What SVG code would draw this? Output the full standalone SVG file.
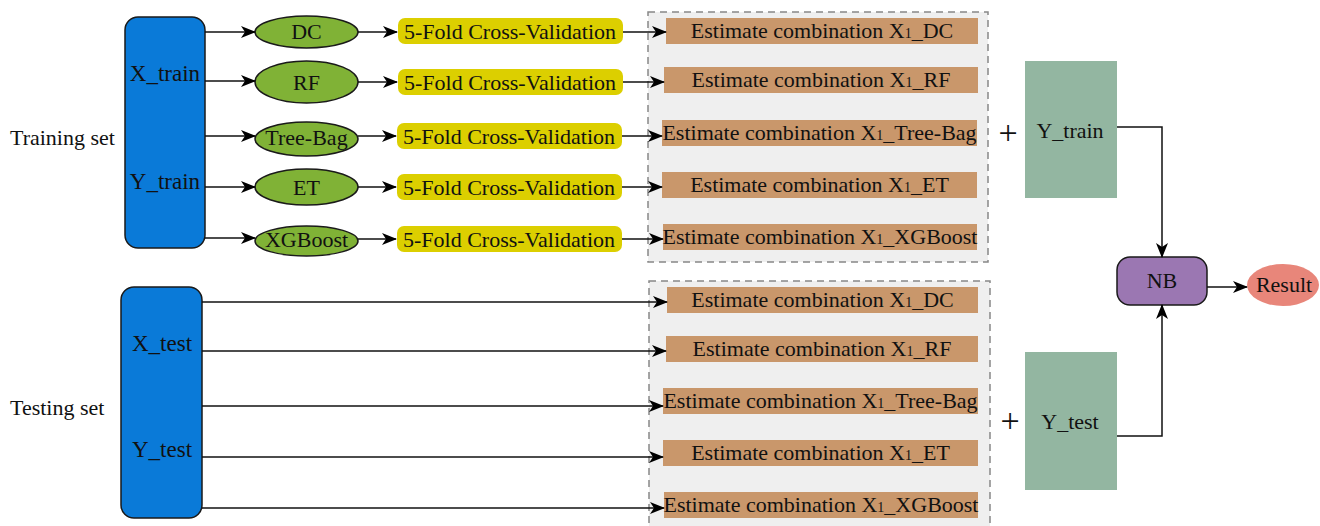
<svg xmlns="http://www.w3.org/2000/svg" width="1320" height="526" viewBox="0 0 1320 526">
<defs>
<marker id="ah" markerWidth="15" markerHeight="12" refX="14" refY="6" orient="auto" markerUnits="userSpaceOnUse">
<path d="M0,0 L15,6 L0,12 L4,6 z" fill="#000"/>
</marker>
<style>
text{font-family:"Liberation Serif","Times New Roman",serif;fill:#111;}
.t21{font-size:22px;}
.t22{font-size:23px;}
.blue{fill:#0a7ad8;stroke:#1a1a1a;stroke-width:1.5;}
.ell{fill:#80b236;stroke:#1a1a1a;stroke-width:1.5;}
.yel{fill:#dccf00;}
.brn{fill:#c9976b;}
.grp{fill:#efefef;stroke:#888;stroke-width:1.5;stroke-dasharray:7,5;}
.grn{fill:#93b6a1;}
.ln{stroke:#111;stroke-width:1.5;fill:none;}
.ar{stroke:#111;stroke-width:1.5;fill:none;marker-end:url(#ah);}
.sub{font-size:14px;}
</style>
</defs>
<rect width="1320" height="526" fill="#fff"/>

<text class="t21" x="10" y="145">Training set</text>
<text class="t21" x="10" y="415">Testing set</text>

<g id="train">
<rect class="blue" x="125" y="17" width="80" height="231" rx="13"/>
<text class="t22" x="165" y="81" text-anchor="middle">X_train</text>
<text class="t22" x="165" y="189" text-anchor="middle">Y_train</text>
</g>
<g id="test">
<rect class="blue" x="121" y="287" width="81" height="231" rx="13"/>
<text class="t22" x="162" y="351" text-anchor="middle">X_test</text>
<text class="t22" x="162" y="457" text-anchor="middle">Y_test</text>
</g>

<g id="dc"><ellipse class="ell" cx="306.5" cy="32" rx="51.5" ry="16"/><text class="t21" x="306.5" y="39" text-anchor="middle">DC</text></g>
<g id="rf"><ellipse class="ell" cx="306.5" cy="82" rx="51.5" ry="21"/><text class="t21" x="306.5" y="90" text-anchor="middle">RF</text></g>
<g id="treebag"><ellipse class="ell" cx="306.5" cy="139" rx="51.5" ry="17"/><text class="t21" x="306.5" y="145" text-anchor="middle">Tree-Bag</text></g>
<g id="et"><ellipse class="ell" cx="306.5" cy="187" rx="51.5" ry="18"/><text class="t21" x="306.5" y="195" text-anchor="middle">ET</text></g>
<g id="xgb"><ellipse class="ell" cx="306.5" cy="241" rx="51.5" ry="15"/><text class="t21" x="306.5" y="247" text-anchor="middle">XGBoost</text></g>

<g id="cv1"><rect class="yel" x="398" y="18" width="225" height="26" rx="7"/><text class="t21" x="510" y="39" text-anchor="middle">5-Fold Cross-Validation</text></g>
<g id="cv2"><rect class="yel" x="398" y="69" width="225" height="26" rx="7"/><text class="t21" x="510" y="90" text-anchor="middle">5-Fold Cross-Validation</text></g>
<g id="cv3"><rect class="yel" x="397" y="123" width="225" height="26" rx="7"/><text class="t21" x="509" y="144" text-anchor="middle">5-Fold Cross-Validation</text></g>
<g id="cv4"><rect class="yel" x="397" y="174" width="225" height="26" rx="7"/><text class="t21" x="509" y="195" text-anchor="middle">5-Fold Cross-Validation</text></g>
<g id="cv5"><rect class="yel" x="397" y="226" width="225" height="26" rx="7"/><text class="t21" x="509" y="247" text-anchor="middle">5-Fold Cross-Validation</text></g>

<g id="trainGroup">
<rect class="grp" x="648" y="12" width="340" height="250"/>
<rect class="brn" x="666" y="18" width="312" height="26"/>
<text class="t21" x="822" y="38" text-anchor="middle">Estimate combination X<tspan class="sub">1</tspan>_DC</text>
<rect class="brn" x="664" y="67" width="314" height="26"/>
<text class="t21" x="821" y="87" text-anchor="middle">Estimate combination X<tspan class="sub">1</tspan>_RF</text>
<rect class="brn" x="662" y="120" width="315" height="26"/>
<text class="t21" x="819.5" y="140" text-anchor="middle">Estimate combination X<tspan class="sub">1</tspan>_Tree-Bag</text>
<rect class="brn" x="662" y="172" width="315" height="26"/>
<text class="t21" x="819.5" y="192" text-anchor="middle">Estimate combination X<tspan class="sub">1</tspan>_ET</text>
<rect class="brn" x="663" y="224" width="314" height="26"/>
<text class="t21" x="820" y="244" text-anchor="middle">Estimate combination X<tspan class="sub">1</tspan>_XGBoost</text>
</g>

<g id="testGroup">
<rect class="grp" x="649" y="281" width="341" height="260"/>
<rect class="brn" x="667" y="287" width="311" height="26"/>
<text class="t21" x="822.5" y="307" text-anchor="middle">Estimate combination X<tspan class="sub">1</tspan>_DC</text>
<rect class="brn" x="666" y="336" width="312" height="26"/>
<text class="t21" x="822" y="356" text-anchor="middle">Estimate combination X<tspan class="sub">1</tspan>_RF</text>
<rect class="brn" x="663" y="388" width="315" height="26"/>
<text class="t21" x="820.5" y="408" text-anchor="middle">Estimate combination X<tspan class="sub">1</tspan>_Tree-Bag</text>
<rect class="brn" x="663" y="440" width="315" height="26"/>
<text class="t21" x="820.5" y="460" text-anchor="middle">Estimate combination X<tspan class="sub">1</tspan>_ET</text>
<rect class="brn" x="664" y="492" width="314" height="26"/>
<text class="t21" x="821" y="512" text-anchor="middle">Estimate combination X<tspan class="sub">1</tspan>_XGBoost</text>
</g>

<text x="1008" y="144" font-size="34" text-anchor="middle">+</text>
<text x="1010" y="432" font-size="34" text-anchor="middle">+</text>

<g id="ytrain"><rect class="grn" x="1025" y="61" width="92" height="137"/><text class="t21" x="1070" y="138" text-anchor="middle">Y_train</text></g>
<g id="ytest"><rect class="grn" x="1025" y="352" width="92" height="138"/><text class="t21" x="1070" y="429" text-anchor="middle">Y_test</text></g>
<g id="nb"><rect x="1117" y="257" width="90" height="48" rx="13" fill="#9b77b2" stroke="#1a1a1a" stroke-width="1.5"/><text class="t21" x="1162" y="288" text-anchor="middle">NB</text></g>
<g id="result"><ellipse cx="1283" cy="285" rx="36" ry="21" fill="#e8867a"/><text class="t21" x="1284" y="292" text-anchor="middle">Result</text></g>

<g id="connectors">
<line class="ar" x1="205" y1="32" x2="255" y2="32"/>
<line class="ar" x1="205" y1="81" x2="255" y2="81"/>
<line class="ar" x1="205" y1="136" x2="255" y2="136"/>
<line class="ar" x1="205" y1="187" x2="255" y2="187"/>
<line class="ar" x1="205" y1="238" x2="255" y2="238"/>
<line class="ar" x1="358" y1="32" x2="397" y2="32"/>
<line class="ar" x1="358" y1="82" x2="397" y2="82"/>
<line class="ar" x1="358" y1="136" x2="396" y2="136"/>
<line class="ar" x1="358" y1="187" x2="396" y2="187"/>
<line class="ar" x1="358" y1="239" x2="396" y2="239"/>
<line class="ar" x1="623" y1="32" x2="666" y2="32"/>
<line class="ar" x1="623" y1="82" x2="664" y2="82"/>
<line class="ar" x1="622" y1="136" x2="662" y2="136"/>
<line class="ar" x1="622" y1="187" x2="662" y2="187"/>
<line class="ar" x1="622" y1="239" x2="663" y2="239"/>
<line class="ar" x1="202" y1="302" x2="667" y2="302"/>
<line class="ar" x1="202" y1="351" x2="666" y2="351"/>
<line class="ar" x1="202" y1="406" x2="663" y2="406"/>
<line class="ar" x1="202" y1="457" x2="663" y2="457"/>
<line class="ar" x1="202" y1="508" x2="664" y2="508"/>
<polyline class="ar" points="1117,127 1162,127 1162,257"/>
<polyline class="ar" points="1117,436 1162,436 1162,305"/>
<line class="ar" x1="1207" y1="287" x2="1247" y2="287"/>
</g>
</svg>
